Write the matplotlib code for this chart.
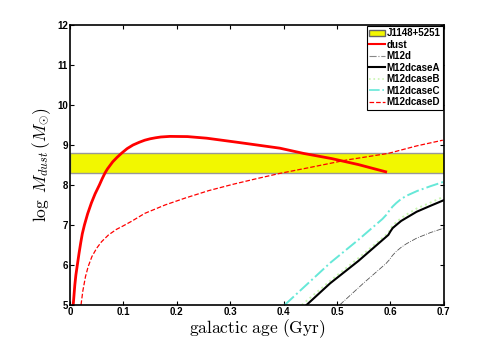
import matplotlib
matplotlib.use('Agg')
import matplotlib.pyplot as plt
from matplotlib.patches import Patch

# observed band for J1148+5251 (log Mdust)
band_lo, band_hi = 8.3, 8.8

# dust (solid red)
dust_x = [0.006, 0.0075, 0.009, 0.011, 0.0137, 0.017, 0.02, 0.023, 0.027, 0.033,
          0.04, 0.047, 0.055, 0.06, 0.0655, 0.07, 0.08, 0.088, 0.097, 0.107,
          0.118, 0.13, 0.14, 0.15, 0.16, 0.17, 0.187, 0.22, 0.256, 0.312,
          0.35, 0.393, 0.437, 0.49, 0.54, 0.591]
dust_y = [5.0, 5.25, 5.5, 5.75, 6.0, 6.3, 6.55, 6.78, 7.0, 7.28,
          7.55, 7.78, 8.0, 8.15, 8.3, 8.4, 8.58, 8.69, 8.8, 8.91,
          9.0, 9.07, 9.12, 9.155, 9.18, 9.2, 9.215, 9.21, 9.17, 9.07,
          9.0, 8.92, 8.79, 8.66, 8.51, 8.33]

# M12dcaseD (red dashed)
caseD_x = [0.0206, 0.024, 0.029, 0.034, 0.041, 0.05, 0.059, 0.072, 0.087, 0.10,
           0.115, 0.14, 0.178, 0.215, 0.26, 0.306, 0.35, 0.393, 0.45, 0.518,
           0.596, 0.65, 0.698]
caseD_y = [5.0, 5.35, 5.71, 5.96, 6.21, 6.42, 6.58, 6.75, 6.89, 6.98,
           7.09, 7.29, 7.5, 7.67, 7.86, 8.02, 8.16, 8.29, 8.44, 8.625,
           8.79, 8.98, 9.12]

# M12dcaseA (black solid)
caseA_x = [0.443, 0.487, 0.54, 0.596, 0.600, 0.604, 0.611, 0.62, 0.63, 0.649, 0.675, 0.70]
caseA_y = [5.0, 5.54, 6.1, 6.75, 6.84, 6.92, 7.0, 7.1, 7.18, 7.33, 7.48, 7.62]

# M12dcaseB (green dotted)
caseB_x = [0.434, 0.487, 0.54, 0.596, 0.600, 0.604, 0.611, 0.62, 0.63, 0.649, 0.675, 0.70]
caseB_y = [5.0, 5.6, 6.17, 6.8, 6.9, 6.98, 7.07, 7.17, 7.26, 7.41, 7.56, 7.71]

# M12dcaseC (cyan dash-dot)
caseC_x = [0.402, 0.487, 0.54, 0.585, 0.592, 0.598, 0.604, 0.611, 0.62, 0.63, 0.65, 0.675, 0.70]
caseC_y = [5.0, 6.05, 6.63, 7.15, 7.25, 7.36, 7.46, 7.55, 7.65, 7.73, 7.85, 7.97, 8.08]

# M12d (gray dash-dot)
m12d_x = [0.505, 0.55, 0.592, 0.598, 0.604, 0.611, 0.62, 0.63, 0.649, 0.675, 0.70]
m12d_y = [5.0, 5.55, 6.04, 6.13, 6.24, 6.34, 6.44, 6.53, 6.67, 6.81, 6.92]

xticks = [0, 0.1, 0.2, 0.3, 0.4, 0.5, 0.6, 0.7]
xtick_labels = ['0', '0.1', '0.2', '0.3', '0.4', '0.5', '0.6', '0.7']
yticks = [5, 6, 7, 8, 9, 10, 11, 12]

plt.rcParams['mathtext.fontset'] = 'cm'

fig = plt.figure(figsize=(4.91, 3.43), dpi=100)
ax = fig.add_axes([0.1426, 0.111, 0.7614, 0.816])

ax.axhspan(band_lo, band_hi, facecolor='#f2f700', edgecolor='#999999', linewidth=1.0)
ax.plot(dust_x, dust_y, color='#ff0000', lw=2.0)
ax.plot(m12d_x, m12d_y, color='#555555', lw=0.6, ls='-.')
ax.plot(caseB_x, caseB_y, color='#c8f5b0', lw=1.4, ls=':')
ax.plot(caseA_x, caseA_y, color='black', lw=1.5)
ax.plot(caseC_x, caseC_y, color='#66e8d8', lw=1.4, ls='-.')
ax.plot(caseD_x, caseD_y, color='#ff0000', lw=0.9, ls='--')

ax.set_xlim(0, 0.7)
ax.set_ylim(5, 12)
ax.set_xticks(xticks)
ax.set_xticklabels(xtick_labels)
ax.set_yticks(yticks)
ax.tick_params(direction='in', top=True, right=True, length=3, width=0.8,
               labelsize=7, pad=1.5)
for lab in ax.get_xticklabels() + ax.get_yticklabels():
    lab.set_fontweight('bold')
    lab.set_family('Liberation Sans')
for s in ax.spines.values():
    s.set_linewidth(1.2)

ax.set_xlabel(r'$\mathrm{galactic\ age\ (Gyr)}$', fontsize=12.5, labelpad=0)
ax.set_ylabel(r'$\log\ M_{dust}\,(M_{\odot})$', fontsize=12.5, labelpad=3)

handles = [
    Patch(facecolor='#f2f700', edgecolor='#666666', label='J1148+5251'),
    plt.Line2D([], [], color='#ff0000', lw=1.5, label='dust'),
    plt.Line2D([], [], color='#888888', lw=0.8, ls='-.', label='M12d'),
    plt.Line2D([], [], color='black', lw=1.5, label='M12dcaseA'),
    plt.Line2D([], [], color='#c8f5b0', lw=1.2, ls=':', label='M12dcaseB'),
    plt.Line2D([], [], color='#66e8d8', lw=1.2, ls='-.', label='M12dcaseC'),
    plt.Line2D([], [], color='#ff0000', lw=0.9, ls='--', label='M12dcaseD'),
]
leg = ax.legend(handles=handles, loc='upper right', fancybox=False,
                prop={'family': 'Liberation Sans', 'weight': 'bold', 'size': 7},
                handlelength=1.6, handletextpad=0.2, labelspacing=0.15,
                borderpad=0.25, borderaxespad=0.1, framealpha=1)
leg.get_frame().set_edgecolor('black')
leg.get_frame().set_linewidth(0.8)

fig.savefig('out.png', dpi=100)
